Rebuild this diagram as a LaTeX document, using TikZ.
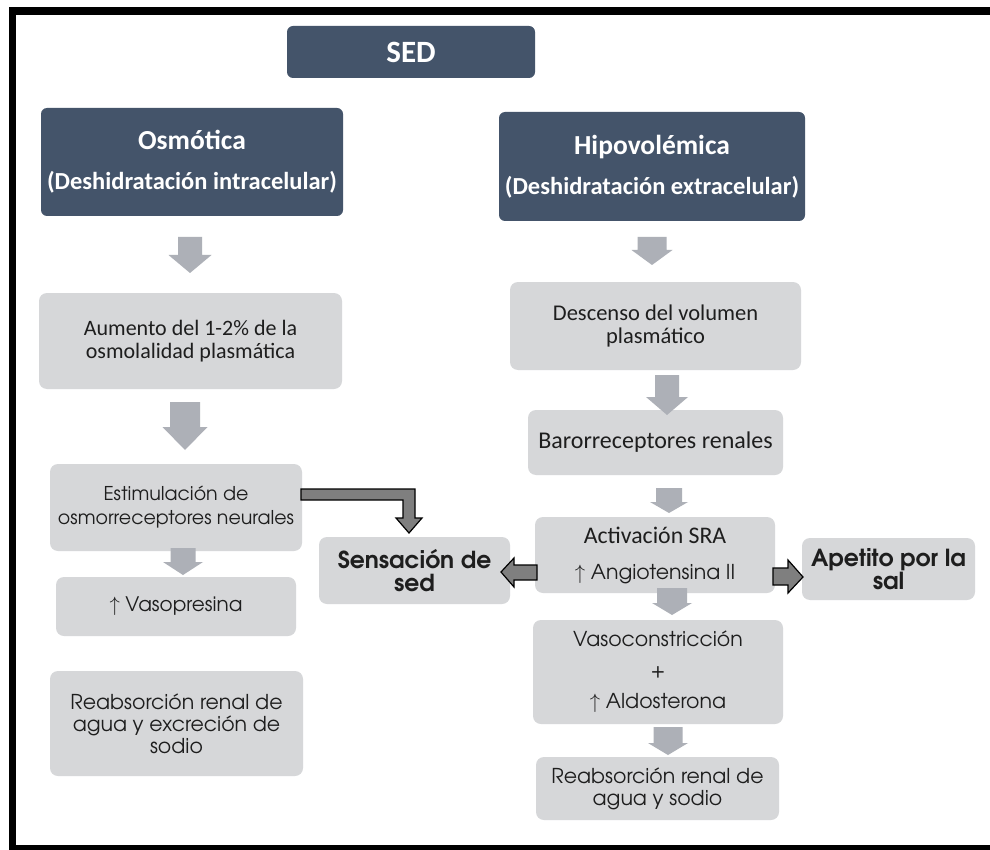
\documentclass[tikz,border=0pt]{standalone}
\usepackage{fontspec}
\setmainfont{Carlito}
\newfontfamily\gothic{texgyreadventor}[Extension=.otf, UprightFont=*-regular, BoldFont=*-bold]
\definecolor{slate}{HTML}{44546A}
\definecolor{boxgray}{HTML}{D6D7D9}
\definecolor{arrowgray}{HTML}{ADB0B7}
\definecolor{darkarrow}{HTML}{7F7F7F}
\definecolor{ink}{HTML}{1E1E1E}

% box given by its corners (x1,y1)-(x2,y2), y growing downwards
\newcommand\rbox[7]{\node[#6, minimum width={(#4-#2)*1pt}, minimum height={(#5-#3)*1pt}] (#1) at ({(#2+#4)/2},{(#3+#5)/2}) {#7};}
% light grey block arrow pointing down: cx, top, tip, shaft half-width, head half-width, head start
\newcommand\downblock[6]{\fill[arrowgray] ({#1-#4},#2) -- ({#1+#4},#2) -- ({#1+#4},#6) -- ({#1+#5},#6) -- (#1,#3) -- ({#1-#5},#6) -- ({#1-#4},#6) -- cycle;}

\begin{document}
\begin{tikzpicture}[x=1pt,y=-1pt,
  titlebox/.style={fill=slate, rounded corners=6pt, text=white, align=center, inner sep=0pt},
  graybox/.style={fill=boxgray, rounded corners=8pt, text=ink, align=center, inner sep=0pt},
  outlinedarrow/.style={fill=darkarrow, draw=black, line width=1.2pt, line join=miter}]
\useasboundingbox (0,0) rectangle (990,850);
\fill[white] (0,0) rectangle (990,850);

% frame
\fill[black] (9,7) rectangle (16,850);
\fill[black] (9,7) rectangle (990,15);
\fill[black] (9,845) rectangle (990,850);

% header boxes
\rbox{sed}{287}{26}{535}{78}{titlebox, font=\bfseries\fontsize{31}{34}\selectfont}{SED}
\rbox{osm}{41}{108}{343}{216}{titlebox, font=\bfseries\fontsize{24.5}{40}\selectfont}{{\fontsize{27.5}{40}\selectfont Osmótica}\\(Deshidratación intracelular)}
\rbox{hipo}{499}{112}{805}{221}{titlebox, font=\bfseries\fontsize{24.5}{40}\selectfont}{{\fontsize{27.5}{40}\selectfont Hipovolémica}\\(Deshidratación extracelular)}

% left column
\rbox{aum}{39}{293}{342}{389}{graybox, font=\fontsize{22}{23}\selectfont}{Aumento del 1-2\% de la\\osmolalidad plasmática}
\rbox{est}{50}{464}{302}{551}{graybox, font=\gothic\fontsize{19}{24}\selectfont}{Estimulación de\\osmorreceptores neurales}
\rbox{vaso}{56}{577}{296}{636}{graybox, font=\gothic\fontsize{20}{24}\selectfont}{$\uparrow$ Vasopresina}
\rbox{reabsL}{50}{671}{303}{776}{graybox, font=\gothic\fontsize{20.5}{22}\selectfont}{Reabsorción renal de\\agua y excreción de\\sodio}

% centre
\rbox{sens}{319}{537}{510}{604}{graybox, font=\gothic\bfseries\fontsize{23.4}{23}\selectfont}{Sensación de\\sed}

% right column
\rbox{desc}{510}{282}{801}{370}{graybox, font=\fontsize{22.5}{23}\selectfont}{Descenso del volumen\\plasmático}
\rbox{baro}{528}{410}{783}{475}{graybox, font=\fontsize{24}{26}\selectfont}{Barorreceptores renales}
\rbox{sra}{535}{517}{775}{593}{graybox, font=\gothic\fontsize{20.5}{36}\selectfont}{{\normalfont\fontsize{23.8}{36}\selectfont Activación SRA}\\$\uparrow$ Angiotensina II}
\rbox{apet}{802}{538}{975}{600}{graybox, font=\gothic\bfseries\fontsize{23.5}{23}\selectfont}{Apetito por la\\sal}
\rbox{vcon}{533}{620}{783}{724}{graybox, font=\gothic\fontsize{20.5}{31}\selectfont}{Vasoconstricción\\+\\$\uparrow$ Aldosterona}
\rbox{reabsR}{536}{757}{779}{820}{graybox, font=\gothic\fontsize{20.5}{22}\selectfont}{Reabsorción renal de\\agua y sodio}

% light grey down arrows
\downblock{190}{237}{273}{12}{21.5}{255}
\downblock{185}{402}{450}{15}{22.5}{427}
\downblock{183}{548}{575}{12.5}{20}{562}
\downblock{652}{237}{265}{14.5}{20.5}{250}
\downblock{667}{375}{415}{12}{21}{397}
\downblock{669}{488}{513}{13}{19}{502}
\downblock{672}{588}{615}{15}{20}{603}
\downblock{668}{727}{755}{14.5}{20}{743}

% dark outlined arrows
\draw[outlinedarrow] (301,489) -- (415,489) -- (415,518) -- (422,518) -- (409,533) -- (396,518) -- (403,518) -- (403,500) -- (301,500) -- cycle;
\draw[outlinedarrow] (537,565) -- (514,565) -- (514,558) -- (501,572) -- (514,587) -- (514,580) -- (537,580) -- cycle;
\draw[outlinedarrow] (773,568) -- (788,568) -- (788,560) -- (803,577) -- (788,593) -- (788,585) -- (773,585) -- cycle;
\end{tikzpicture}
\end{document}
